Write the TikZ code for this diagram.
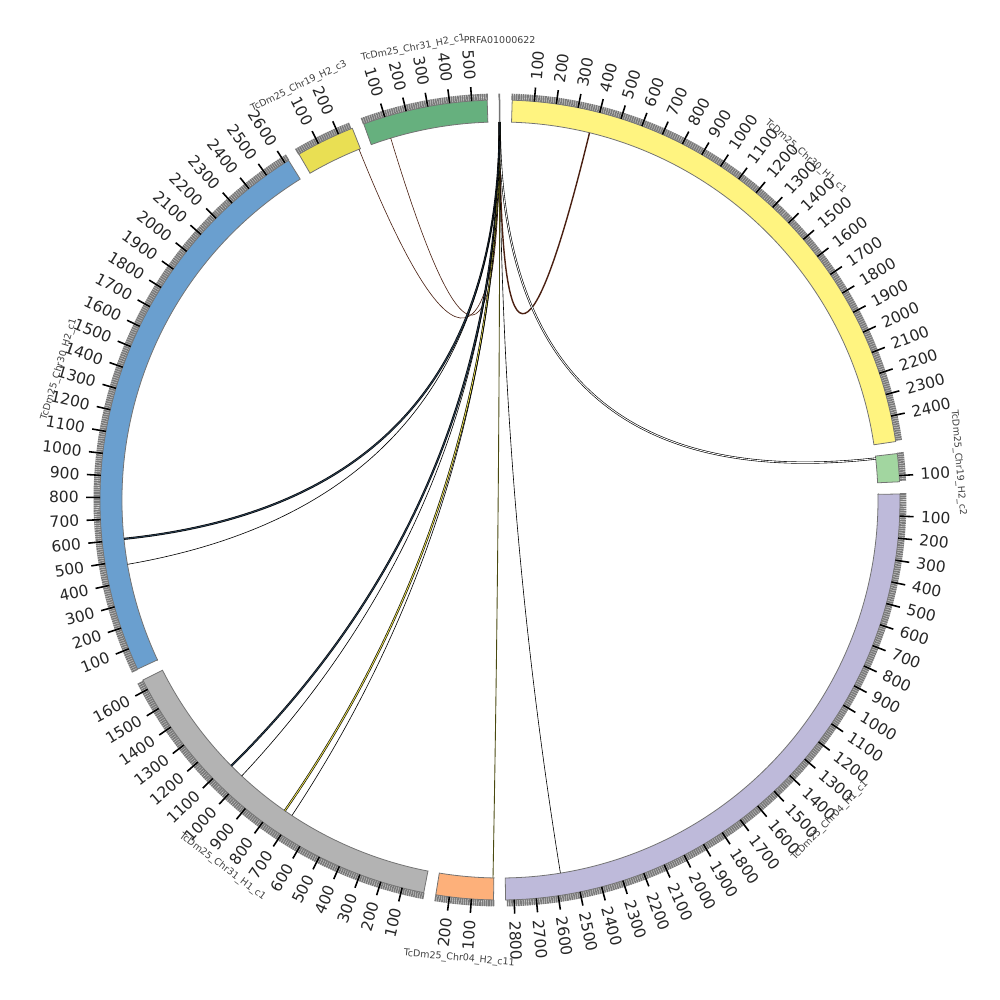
\documentclass[tikz,border=0pt]{standalone}
\usepackage{fontspec}
\setmainfont{DejaVu Sans}
\usetikzlibrary{calc}

\definecolor{chrA}{HTML}{FFF480}
\definecolor{chrB}{HTML}{A2D6A0}
\definecolor{chrC}{HTML}{BEBADA}
\definecolor{chrD}{HTML}{FDB07A}
\definecolor{chrE}{HTML}{B3B3B3}
\definecolor{chrF}{HTML}{6A9FCF}
\definecolor{chrG}{HTML}{E9DF53}
\definecolor{chrH}{HTML}{66B07E}
\definecolor{linkbrown}{HTML}{4A2012}
\definecolor{linkolive}{HTML}{4A4A10}

% degrees per base unit
\newcommand{\kbdeg}{0.031716}

\begin{document}
\begin{tikzpicture}[
    band/.style={draw=black!55, line width=0.45pt},
    minortick/.style={draw=black!52, line width=0.95pt},
    majortick/.style={draw=black, line width=0.9pt},
    ticklabel/.style={inner sep=0pt, text=black!85, font=\fontsize{8.8}{9}\selectfont},
    chrlabel/.style={inner sep=0pt, text=black!75, font=\fontsize{5.4}{6}\selectfont},
    link/.style={draw=black, line width=0.35pt},
    ribbon/.style={link, double=#1, double distance=0.5pt},
    chord/.style={to path={.. controls ($(\tikztostart)!0.6667!(O)$) and ($(\tikztotarget)!0.6667!(O)$) .. (\tikztotarget)}}
  ]
  \useasboundingbox (-10,-10) rectangle (10,10);
  \coordinate (O) at (0,0);

  % sectors: name / start (clockwise from top) / length / major ticks / colour
  \foreach \nm/\st/\len/\nmaj/\col in {
      PRFA01000622/-0.095/3/0/white,
      TcDm25\_Chr30\_H1\_c1/1.75/2517/24/chrA,
      TcDm25\_Chr19\_H2\_c2/83.33/128/1/chrB,
      TcDm25\_Chr04\_H1\_c1/89.14/2839/28/chrC,
      TcDm25\_Chr04\_H2\_c11/180.93/262/2/chrD,
      TcDm25\_Chr31\_H1\_c1/190.99/1647/16/chrE,
      TcDm25\_Chr30\_H2\_c1/244.98/2620/26/chrF,
      TcDm25\_Chr19\_H2\_c3/329.83/268/2/chrG,
      TcDm25\_Chr31\_H2\_c1/340.08/570/5/chrH}{
    \pgfmathsetmacro\en{\st+\len*\kbdeg}
    \pgfmathsetmacro\phs{90-(\st)}
    \pgfmathsetmacro\phe{90-\en}
    \filldraw[band, fill=\col] (\phs:7.56) -- (\phs:8)
      arc[start angle=\phs, end angle=\phe, radius=8] -- (\phe:7.56)
      arc[start angle=\phe, end angle=\phs, radius=7.56] -- cycle;
    % minor ticks every 10
    \pgfmathtruncatemacro\nmin{\len/10}
    \draw[minortick] foreach \k in {0,...,\nmin} {
      ({\phs-\k*10*\kbdeg}:8) -- ({\phs-\k*10*\kbdeg}:8.13) };
    % major ticks every 100
    \ifnum\nmaj>0
      \foreach \t in {1,...,\nmaj}{
        \pgfmathsetmacro\th{\st+\t*100*\kbdeg}
        \pgfmathsetmacro\ph{90-\th}
        \draw[majortick] (\ph:8) -- (\ph:8.28);
        \pgfmathtruncatemacro\rs{\th<180}
        \ifnum\rs=1
          \node[ticklabel, rotate=\ph, anchor=west] at (\ph:8.42) {\t00};
        \else
          \node[ticklabel, rotate=\ph+180, anchor=east] at (\ph:8.42) {\t00};
        \fi
      }
    \fi
    % sector name
    \pgfmathsetmacro\md{\st+\len*\kbdeg/2}
    \pgfmathsetmacro\phm{90-\md}
    \pgfmathsetmacro\rt{(\md>90 && \md<270) ? (180-\md) : (0-\md)}
    \node[chrlabel, rotate=\rt] at (\phm:9.2) {\nm};
  }

  % link ends
  \coordinate (src) at (90.05:7.56);
  \coordinate (tY) at (76.3:7.56);
  \coordinate (tLG) at (6.3:7.56);
  \coordinate (tLav) at (-80.8:7.56);
  \coordinate (tOr) at (-91.06:7.56);
  \coordinate (tGr1) at (-135.3:7.56);
  \coordinate (tGr2) at (-133.1:7.56);
  \coordinate (tGr3) at (-124.7:7.56);
  \coordinate (tGr4) at (-123.4:7.56);
  \coordinate (tBl1) at (-174.1:7.56);
  \coordinate (tBl2) at (-170.2:7.56);
  \coordinate (tY2) at (111.9:7.56);
  \coordinate (tG) at (106.8:7.56);

  \path
    (src) edge[link, chord, draw=linkbrown] (tY2)
    (src) edge[link, chord, draw=linkbrown] (tG)
    (src) edge[link, chord, draw=linkbrown, line width=0.8pt] (tY)
    (src) edge[ribbon=white, chord] (tLG)
    (src) edge[link, chord] (tLav)
    (src) edge[link, chord, draw=linkolive, line width=0.5pt] (tOr)
    (src) edge[ribbon=chrF!40!black, chord] (tGr1)
    (src) edge[link, chord] (tGr2)
    (src) edge[ribbon=chrG, chord] (tGr3)
    (src) edge[link, chord] (tGr4)
    (src) edge[ribbon=chrF!40!black, chord] (tBl1)
    (src) edge[link, chord] (tBl2);
\end{tikzpicture}
\end{document}
